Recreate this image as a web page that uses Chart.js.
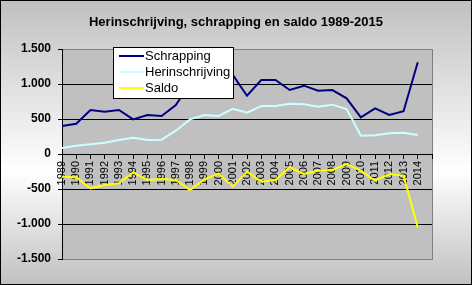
<!DOCTYPE html>
<html>
<head>
<meta charset="utf-8">
<script src="https://cdn.jsdelivr.net/npm/chart.js@4.4.0/dist/chart.umd.min.js"></script>
<style>
  html, body { margin: 0; padding: 0; background: #fff; }
  #wrap { width: 472px; height: 285px; }
</style>
</head>
<body>
<div id="wrap"><canvas id="grafiek" width="472" height="285"></canvas></div>
<script>
// ===== DATA =====
const jaren = ['1989', '1990', '1991', '1992', '1993', '1994', '1995', '1996', '1997', '1998',
               '1999', '2000', '2001', '2002', '2003', '2004', '2005', '2006', '2007', '2008',
               '2009', '2010', '2011', '2012', '2013', '2014', '2015'];
const schrapping = [400, 433, 629, 605, 629, 495, 557, 543, 700, 1010, 920, 825, 1130,
                    833, 1057, 1057, 914, 976, 905, 914, 795, 524, 652, 557, 610, 1310];
const herinschrijving = [86, 119, 138, 162, 200, 233, 200, 205, 333, 495, 557, 543, 645,
                         590, 686, 686, 719, 710, 676, 705, 643, 262, 267, 295, 305, 271];
const saldo = [-324, -333, -490, -443, -419, -262, -371, -357, -371, -514, -362, -280, -467,
               -252, -395, -371, -190, -286, -238, -229, -143, -238, -381, -286, -310, -1048];
const yTicks = [-1500, -1000, -500, 0, 500, 1000, 1500];

// achtergrond, plotvlak en rand
const achtergrond = {
    id: 'achtergrond',
    afterLayout(chart) {
        // titel centreren over de hele breedte
        const t = chart.titleBlock;
        if (t) { t.left = 0; t.right = chart.width; t.width = chart.width; }
    },
    beforeDraw(chart) {
        const { ctx, width, height, chartArea: ca } = chart;
        ctx.save();
        const grad = ctx.createLinearGradient(0, 0, 0, height);
        grad.addColorStop(0, '#c0c0c0');
        grad.addColorStop(0.6, '#ffffff');
        grad.addColorStop(1, '#c0c0c0');
        ctx.fillStyle = grad;
        ctx.fillRect(0, 0, width, height);
        ctx.strokeStyle = '#000';
        ctx.lineWidth = 1;
        ctx.strokeRect(0.5, 0.5, width - 1, height - 1);
        ctx.fillStyle = '#c0c0c0';
        ctx.fillRect(ca.left, ca.top, ca.right - ca.left, ca.bottom - ca.top);
        ctx.strokeStyle = '#808080';
        ctx.strokeRect(ca.left + 0.5, ca.top + 0.5, ca.right - ca.left, ca.bottom - ca.top);
        ctx.restore();
    }
};

// legenda met kader
const legendaKader = {
    id: 'legendaKader',
    afterDraw(chart) {
        const ctx = chart.ctx;
        const x = 113.5, y = 47.5, w = 120, h = 51;
        ctx.save();
        ctx.fillStyle = '#fff';
        ctx.fillRect(x, y, w, h);
        ctx.strokeStyle = '#000';
        ctx.lineWidth = 1;
        ctx.strokeRect(x, y, w, h);
        ctx.font = '13px Arial, "Liberation Sans"';
        ctx.textBaseline = 'middle';
        chart.data.datasets.forEach((ds, i) => {
            const ry = 56 + i * 16;
            ctx.strokeStyle = ds.borderColor;
            ctx.lineWidth = 2;
            ctx.beginPath();
            ctx.moveTo(119, ry);
            ctx.lineTo(144, ry);
            ctx.stroke();
            ctx.fillStyle = '#000';
            ctx.fillText(ds.label, 145, ry + 0.5);
        });
        ctx.restore();
    }
};

function formatGetal(v) {
    const s = Math.abs(v).toString().replace(/\B(?=(\d{3})+(?!\d))/g, '.');
    return (v < 0 ? '-' : '') + s;
}

new Chart(document.getElementById('grafiek'), {
    type: 'line',
    data: {
        labels: jaren,
        datasets: [
            { label: 'Schrapping', data: schrapping, borderColor: '#000080' },
            { label: 'Herinschrijving', data: herinschrijving, borderColor: '#ccffff' },
            { label: 'Saldo', data: saldo, borderColor: '#ffff00' }
        ]
    },
    options: {
        responsive: false,
        animation: false,
        devicePixelRatio: 1,
        layout: { padding: { left: 0, right: 40, top: 0, bottom: 26 } },
        elements: {
            line: { borderWidth: 2, tension: 0, fill: false },
            point: { radius: 0, hoverRadius: 0 }
        },
        plugins: {
            legend: { display: false },
            tooltip: { enabled: false },
            title: {
                display: true,
                text: 'Herinschrijving, schrapping en saldo 1989-2015',
                color: '#000',
                font: { family: 'Arial, "Liberation Sans"', size: 13, weight: 'bold', lineHeight: 1.2 },
                padding: { top: 15, bottom: 18.4 }
            }
        },
        scales: {
            x: {
                type: 'category',
                offset: false,
                position: { y: 0 },
                grid: { drawOnChartArea: false, drawTicks: true, tickLength: 4, tickColor: '#000' },
                border: { color: '#000' },
                ticks: {
                    autoSkip: false,
                    maxRotation: 90,
                    minRotation: 90,
                    padding: 3,
                    color: '#000',
                    font: { family: 'Arial, "Liberation Sans"', size: 11 },
                    callback: function(v, i) { return i === jaren.length - 1 ? '' : jaren[i]; }
                }
            },
            y: {
                min: -1500,
                max: 1500,
                afterBuildTicks: s => { s.ticks = yTicks.map(v => ({ value: v })); },
                afterFit: s => { s.width = 62; },
                grid: {
                    color: c => (Math.abs(c.tick.value) === 1500 ? '#808080' : '#000'),
                    tickLength: 4,
                    tickColor: '#000'
                },
                border: { color: '#000' },
                ticks: {
                    padding: 7,
                    color: '#000',
                    font: { family: 'Arial, "Liberation Sans"', size: 12, weight: 'bold' },
                    callback: v => formatGetal(v)
                }
            }
        }
    },
    plugins: [achtergrond, legendaKader]
});
</script>
</body>
</html>
